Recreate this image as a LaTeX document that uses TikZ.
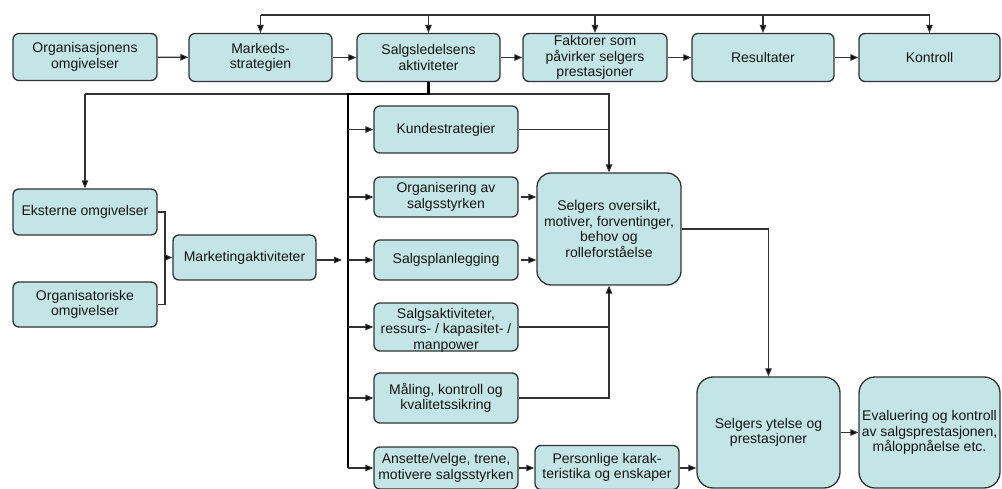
\documentclass[tikz,border=0pt]{standalone}
\usepackage{fontspec}
\setmainfont{Liberation Sans}
\usetikzlibrary{arrows.meta,calc}
\definecolor{boxfill}{RGB}{195,229,229}
\definecolor{edgec}{RGB}{50,50,50}
\definecolor{txtc}{RGB}{20,20,20}
\begin{document}
\begin{tikzpicture}[x=1pt,y=-1pt,
  font=\fontsize{14}{15.5}\selectfont,
  box/.style={draw=edgec, line width=1.3pt, fill=boxfill, rounded corners=6pt,
    align=center, inner sep=1pt, text=txtc},
  bigbox/.style={box, rounded corners=14pt},
  conn/.style={draw=edgec, line width=1.1pt},
  arr/.style={conn, -{Triangle[length=8pt,width=6.5pt,fill=black]}},
  spine/.style={draw=black, line width=2.6pt}]
\useasboundingbox (0,0) rectangle (1002,489);

% top row
\node[box, minimum width=144, minimum height=47] (org)  at (85,57)    {Organisasjonens\\omgivelser};
\node[box, minimum width=143, minimum height=48] (mark) at (260.5,57.5) {Markeds-\\strategien};
\node[box, minimum width=143, minimum height=48] (sled) at (428.5,57.5) {Salgsledelsens\\aktiviteter};
\node[box, minimum width=144, minimum height=48] (fakt) at (595,57.5)   {Faktorer som\\påvirker selgers\\prestasjoner};
\node[box, minimum width=142, minimum height=48] (res)  at (763,57.5)   {Resultater};
\node[box, minimum width=141, minimum height=48] (kont) at (929.5,57.5) {Kontroll};

\draw[arr] (org) -- (mark);
\draw[arr] (mark) -- (sled);
\draw[arr] (sled) -- (fakt);
\draw[arr] (fakt) -- (res);
\draw[arr] (res) -- (kont);

% feedback bus
\coordinate (busL) at (260.5,15);
\coordinate (busR) at (929.5,15);
\draw[conn] (busL) -- (busR);
\foreach \n in {mark,sled,fakt,res,kont} \draw[arr] (\n.north |- busL) -- (\n.north);

% left side
\node[box, minimum width=144, minimum height=46] (ekst) at (85,212)    {Eksterne omgivelser};
\node[box, minimum width=144, minimum height=45] (orgn) at (85,304.5)  {Organisatoriske\\omgivelser};
\node[box, minimum width=143, minimum height=45] (mkt)  at (244.5,257.5) {Marketingaktiviteter};

% middle column
\node[box, minimum width=144, minimum height=47] (kunde) at (446,129.5) {Kundestrategier};
\node[box, minimum width=144, minimum height=40] (orgs)  at (446,197)   {Organisering av\\salgsstyrken};
\node[box, minimum width=144, minimum height=40] (plan)  at (446,260)   {Salgsplanlegging};
\node[box, minimum width=144, minimum height=48] (sakt)  at (446,327)   {};
\node[align=center, inner sep=0pt, text=txtc] (saktT) at (446,330) {Salgsaktiviteter,\\ressurs- / kapasitet- /\\manpower};
\node[box, minimum width=144, minimum height=50] (maal)  at (446,398)   {Måling, kontroll og\\kvalitetssikring};
\node[box, minimum width=144, minimum height=42] (ans)   at (446,468)   {Ansette/velge, trene,\\motivere salgsstyrken};
\node[box, minimum width=144, minimum height=44] (pers)  at (607,467.5) {Personlige karak-\\teristika og enskaper};

% right
\node[bigbox, minimum width=144, minimum height=112] (selg) at (609,229) {Selgers oversikt,\\motiver, forventinger,\\behov og\\rolleforståelse};
\node[bigbox, rounded corners=16pt, minimum width=143, minimum height=111] (yt) at (768.5,432.5) {Selgers ytelse og\\prestasjoner};
\node[bigbox, rounded corners=16pt, minimum width=141, minimum height=111] (eval) at (929.5,432.5) {Evaluering og kontroll\\av salgsprestasjonen,\\måloppnåelse etc.};

% distribution from Salgsledelsens aktiviteter
\coordinate (sp) at (348,94);
\coordinate (spB) at (348,468);
\draw[conn] (sp) -- (85,94);
\draw[arr] (85,94) -- (ekst.north);
\draw[arr] (sp) -| (selg.north);
\draw[spine] (sled.south) |- (sp) -- (spB);
\foreach \n in {kunde,orgs,plan,sakt,maal,ans} \draw[arr] (\n.west -| sp) -- (\n.west);

% left joins
\coordinate (j) at (165,257.5);
\draw[conn] (ekst.east) -| (j) |- (orgn.east);
\draw[arr] (j) -- (mkt.west);
\coordinate (mktE) at (342,260);
\draw[arr] (mkt.east |- mktE) -- (mktE);

% into Selgers oversikt
\draw[conn] (kunde.east) -- (kunde.east -| selg.north);
\draw[arr] (orgs.east) ++(2,0) -- (orgs.east -| selg.west);
\draw[arr] (plan.east) ++(2,0) -- (plan.east -| selg.west);
\draw[conn] (sakt.east) -- (sakt.east -| selg.south);
\draw[arr] (maal.east) -| (selg.south);

% to Selgers ytelse
\draw[arr] (selg.east) -| (yt.north);
\draw[arr] (ans.east) -- (pers.west |- ans.east);
\draw[arr] (pers.east |- ans.east) -- (yt.west |- ans.east);
\draw[arr] (yt) -- (eval);
\end{tikzpicture}
\end{document}
